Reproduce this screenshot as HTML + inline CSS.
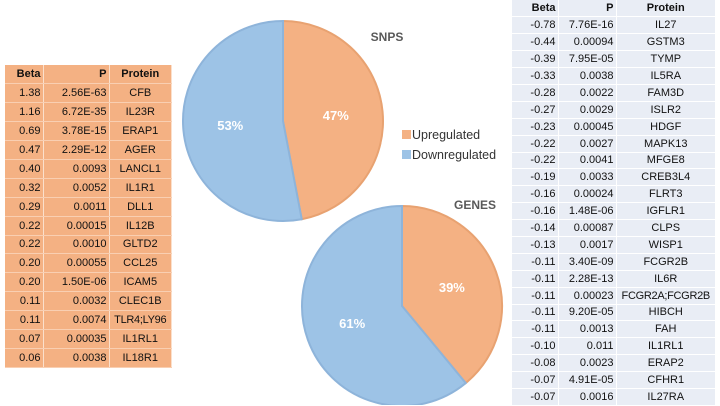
<!DOCTYPE html>
<html><head><meta charset="utf-8"><style>
body{margin:0;width:720px;height:405px;background:#fff;overflow:hidden;position:relative;font-family:"Liberation Sans",sans-serif}
table{border-collapse:collapse;position:absolute;font-size:11px;color:#111;table-layout:fixed}
td,th{padding:0 2px;white-space:nowrap;overflow:hidden;box-sizing:border-box}
#lt{left:5px;top:65px;width:167px;background:#f4b183}
#lt td,#lt th{height:18.9px;line-height:16px;border-right:1px solid #fbe0cc;border-bottom:1px solid #f9cfb2}
#rt{left:512px;top:0;width:204px;background:#e9edf5}
#rt td,#rt th{height:16.9px;line-height:14px;border-right:1px solid #fff;border-bottom:1px solid #fff}
.r{text-align:right}.c{text-align:center}
.n{letter-spacing:-0.3px}
</style></head><body>
<table id="lt"><tbody id="ltb"></tbody></table>
<table id="rt"><tbody id="rtb"></tbody></table>
<svg id="svg" width="720" height="405" style="position:absolute;left:0;top:0"></svg>
<script>
const leftBeta=["1.38","1.16","0.69","0.47","0.40","0.32","0.29","0.22","0.22","0.20","0.20","0.11","0.11","0.07","0.06"];
const leftP=["2.56E-63","6.72E-35","3.78E-15","2.29E-12","0.0093","0.0052","0.0011","0.00015","0.0010","0.00055","1.50E-06","0.0032","0.0074","0.00035","0.0038"];
const leftProt=["CFB","IL23R","ERAP1","AGER","LANCL1","IL1R1","DLL1","IL12B","GLTD2","CCL25","ICAM5","CLEC1B","TLR4;LY96","IL1RL1","IL18R1"];
const rightBeta=["-0.78","-0.44","-0.39","-0.33","-0.28","-0.27","-0.23","-0.22","-0.22","-0.19","-0.16","-0.16","-0.14","-0.13","-0.11","-0.11","-0.11","-0.11","-0.11","-0.10","-0.08","-0.07","-0.07"];
const rightP=["7.76E-16","0.00094","7.95E-05","0.0038","0.0022","0.0029","0.00045","0.0027","0.0041","0.0033","0.00024","1.48E-06","0.00087","0.0017","3.40E-09","2.28E-13","0.00023","9.20E-05","0.0013","0.011","0.0023","4.91E-05","0.0016"];
const rightProt=["IL27","GSTM3","TYMP","IL5RA","FAM3D","ISLR2","HDGF","MAPK13","MFGE8","CREB3L4","FLRT3","IGFLR1","CLPS","WISP1","FCGR2B","IL6R","FCGR2A;FCGR2B","HIBCH","FAH","IL1RL1","ERAP2","CFHR1","IL27RA"];
const pieNames=["SNPS","GENES"];
const upPct=[47,39];
const downPct=[53,61];

function fill(tb,b,p,pr,w1,wp){
  let h='<tr><th class="r" style="width:'+w1+'px">Beta</th><th class="r" style="width:'+wp+'px">P</th><th class="c">Protein</th></tr>';
  for(let i=0;i<b.length;i++)h+='<tr><td class="r">'+b[i]+'</td><td class="r">'+p[i]+'</td><td class="c'+(pr[i].length>8?' n':'')+'">'+pr[i]+'</td></tr>';
  tb.innerHTML=h;
  tb.querySelectorAll('tr').forEach((r,i)=>{});
}
fill(document.getElementById('ltb'),leftBeta,leftP,leftProt,38,66);
fill(document.getElementById('rtb'),rightBeta,rightP,rightProt,46,58);

const NS="http://www.w3.org/2000/svg",svg=document.getElementById('svg');
function el(t,a,txt){const e=document.createElementNS(NS,t);for(const k in a)e.setAttribute(k,a[k]);if(txt)e.textContent=txt;svg.appendChild(e);return e;}
const pies=[{cx:283,cy:121,r:100,lx:387,ly:41},{cx:402,cy:306,r:100,lx:475,ly:209}];
pies.forEach((pc,i)=>{
  const vals=[upPct[i],downPct[i]],tot=vals[0]+vals[1];
  const fills=["#f4b183","#9dc3e6"],strokes=["#e8a271","#8eb4da"];
  let a0=-Math.PI/2;
  vals.forEach((v,j)=>{
    const a1=a0+v/tot*2*Math.PI;
    const x0=pc.cx+pc.r*Math.cos(a0),y0=pc.cy+pc.r*Math.sin(a0),x1=pc.cx+pc.r*Math.cos(a1),y1=pc.cy+pc.r*Math.sin(a1);
    const p=el('path',{d:`M${pc.cx},${pc.cy}L${x0},${y0}A${pc.r},${pc.r} 0 ${a1-a0>Math.PI?1:0} 1 ${x1},${y1}Z`,fill:fills[j],stroke:strokes[j],'stroke-width':2});
    
    
    const am=(a0+a1)/2;
    const t=el('text',{x:pc.cx+pc.r*0.53*Math.cos(am),y:pc.cy+pc.r*0.53*Math.sin(am)+4,'text-anchor':'middle','font-size':13,'font-weight':'bold',fill:'#fff'},v+'%');
    
    
    a0=a1;
  });
  const tt=el('text',{x:pc.lx,y:pc.ly,'text-anchor':'middle','font-size':12,'font-weight':'bold',fill:'#595959'},pieNames[i]);
  
  
});
[["Upregulated","#f4b183",135],["Downregulated","#9dc3e6",155]].forEach(l=>{
  const r=el('rect',{x:402,y:l[2]-5,width:9,height:9,fill:l[1]});
  
  
  const t=el('text',{x:412,y:l[2]+4,'font-size':12.5,fill:'#333'},l[0]);
  
  
});
</script>
</body></html>
